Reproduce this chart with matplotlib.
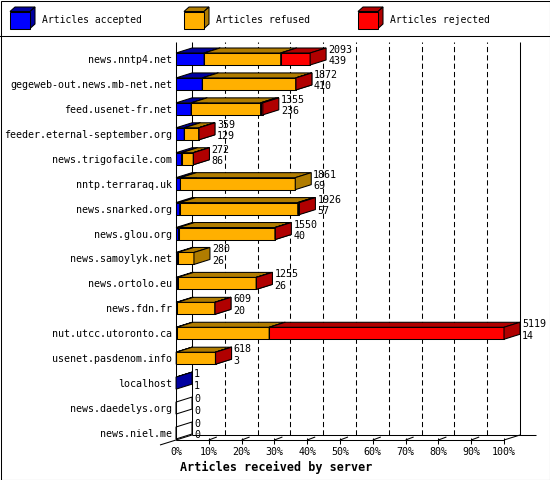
import numpy as np
import matplotlib.pyplot as plt
from matplotlib.patches import Polygon

# data
servers = ['news.nntp4.net', 'gegeweb-out.news.mb-net.net', 'feed.usenet-fr.net',
           'feeder.eternal-september.org', 'news.trigofacile.com', 'nntp.terraraq.uk',
           'news.snarked.org', 'news.glou.org', 'news.samoylyk.net', 'news.ortolo.eu',
           'news.fdn.fr', 'nut.utcc.utoronto.ca', 'usenet.pasdenom.info', 'localhost',
           'news.daedelys.org', 'news.niel.me']
accepted = [439, 410, 236, 129, 86, 69, 57, 40, 26, 26, 20, 14, 3, 1, 0, 0]
refused = [1195, 1460, 1084, 226, 184, 1792, 1843, 1505, 254, 1226, 587, 1440, 613, 0, 0, 0]
rejected = [459, 2, 35, 4, 2, 0, 26, 5, 0, 3, 2, 3665, 2, 0, 0, 0]
series_names = ['Articles accepted', 'Articles refused', 'Articles rejected']
pct_labels = ['%d%%' % p for p in range(0, 101, 10)]

front_cols = ['#0000ff', '#ffb000', '#ff0000']
dark_cols = ['#0000a0', '#b07c00', '#b00000']

totals = [a + r + j for a, r, j in zip(accepted, refused, rejected)]
xmax = max(totals)

W, H = 550, 480
fig = plt.figure(figsize=(W / 100, H / 100), dpi=100)

bg = fig.add_axes([0, 0, 1, 1])
bg.set_xlim(0, W)
bg.set_ylim(H, 0)
bg.axis('off')

row_px = (434 - 60) / 15.0
ax = fig.add_axes([176 / W, 1 - 440 / H, 328 / W, 398 / H])
ax.set_xlim(0, xmax)
ybot = (440 - 59) / row_px
ytop = (42 - 59) / row_px
ax.set_ylim(ybot, ytop)
ax.axis('off')
ax.patch.set_alpha(0)

DX, DY = 16, 5
lw = 0.75
mono = 'DejaVu Sans Mono'
fs = 7.2


def shift(x, y, dxp, dyp):
    p = ax.transData.transform((x, y))
    return ax.transData.inverted().transform((p[0] + dxp, p[1] + dyp))


def line(p, q, **kw):
    ax.plot([p[0], q[0]], [p[1], q[1]], color='black', lw=lw, clip_on=False,
            solid_capstyle='butt', **kw)


# back grid lines
for k in range(1, 10):
    xk = xmax * k / 10
    line(shift(xk, ybot, DX, DY), shift(xk, ytop, DX, 0), ls=(0, (5, 3)), zorder=1)
line(shift(0, ybot, DX, DY), shift(0, ytop, DX, 0), zorder=1)
line(shift(xmax, ybot, DX, DY), shift(xmax, ytop, DX, 0), zorder=1)
line((0, ybot), (0, ytop), zorder=1)

# floor
line((0, ybot), (xmax, ybot), zorder=1)
line((xmax, ybot), shift(xmax, ybot, DX, DY), zorder=1)
line(shift(0, ybot, DX, DY), shift(xmax, ybot, 2 * DX, DY), zorder=1)
line(shift(0, ybot, -DX, -DY), shift(0, ybot, DX, DY), zorder=1)

for k in range(11):
    xk = xmax * k / 10
    if k > 0:
        line(shift(xk, ybot, 0, 2), shift(xk, ybot, 0, -4), zorder=1)
    if 0 < k < 10:
        line(shift(xk, ybot, 0, 0), shift(xk, ybot, 8, 3), zorder=1)
    p = shift(xk, ybot, 0, -12)
    ax.text(p[0], p[1], pct_labels[k], ha='center', va='center',
            fontsize=fs, family=mono, clip_on=False)

# bars
h = 12 / row_px
for i, name in enumerate(servers):
    yt, yb = i - h / 2, i + h / 2
    vals = [accepted[i], refused[i], rejected[i]]
    x0 = 0
    for s, v in enumerate(vals):
        if v <= 0:
            continue
        x1 = x0 + v
        front = [(x0, yb), (x1, yb), (x1, yt), (x0, yt)]
        top = [(x0, yt), (x1, yt), tuple(shift(x1, yt, DX, DY)), tuple(shift(x0, yt, DX, DY))]
        side = [(x1, yt), (x1, yb), tuple(shift(x1, yb, DX, DY)), tuple(shift(x1, yt, DX, DY))]
        for poly, col in [(front, front_cols[s]), (top, dark_cols[s]), (side, dark_cols[s])]:
            ax.add_patch(Polygon(poly, closed=True, facecolor=col, edgecolor='black',
                                 lw=lw, clip_on=False, zorder=3))
        x0 = x1
    if totals[i] == 0:
        side = [(0, yt), (0, yb), tuple(shift(0, yb, DX, DY)), tuple(shift(0, yt, DX, DY))]
        ax.add_patch(Polygon(side, closed=True, facecolor='none', edgecolor='black',
                             lw=lw, clip_on=False, zorder=3))

    p = shift(0, i, -4, -1)
    ax.text(p[0], p[1], name, ha='right', va='center', fontsize=fs, family=mono, clip_on=False)
    p1 = shift(totals[i], i, DX + 2, 9)
    p2 = shift(totals[i], i, DX + 2, -2.5)
    ax.text(p1[0], p1[1], str(totals[i]), ha='left', va='center', fontsize=fs,
            family=mono, clip_on=False, zorder=4)
    ax.text(p2[0], p2[1], str(accepted[i]), ha='left', va='center', fontsize=fs,
            family=mono, clip_on=False, zorder=4)

bg.text(180, 467, 'Articles received by server', fontsize=8.5, fontweight='bold',
        family=mono, ha='left', va='center')

# legend
leg_x = [10, 184, 358]
for s, name in enumerate(series_names):
    x, y0, y1 = leg_x[s], 11.5, 28.5
    w = 20
    bg.add_patch(Polygon([(x, y0), (x + w, y0), (x + w + 5, y0 - 4.5), (x + 5, y0 - 4.5)],
                         facecolor=dark_cols[s], edgecolor='black', lw=lw))
    bg.add_patch(Polygon([(x + w, y0), (x + w, y1), (x + w + 5, y1 - 4.5), (x + w + 5, y0 - 4.5)],
                         facecolor=dark_cols[s], edgecolor='black', lw=lw))
    bg.add_patch(Polygon([(x, y0), (x + w, y0), (x + w, y1), (x, y1)],
                         facecolor=front_cols[s], edgecolor='black', lw=lw))
    bg.text(x + 32, 20, name, fontsize=7, family=mono, ha='left', va='center')

bg.plot([0, W], [35.5, 35.5], color='black', lw=lw)
bg.add_patch(Polygon([(0.5, 0.5), (W - 0.5, 0.5), (W - 0.5, H - 0.5), (0.5, H - 0.5)],
                     facecolor='none', edgecolor='black', lw=lw))

fig.savefig('out.png', dpi=100)
